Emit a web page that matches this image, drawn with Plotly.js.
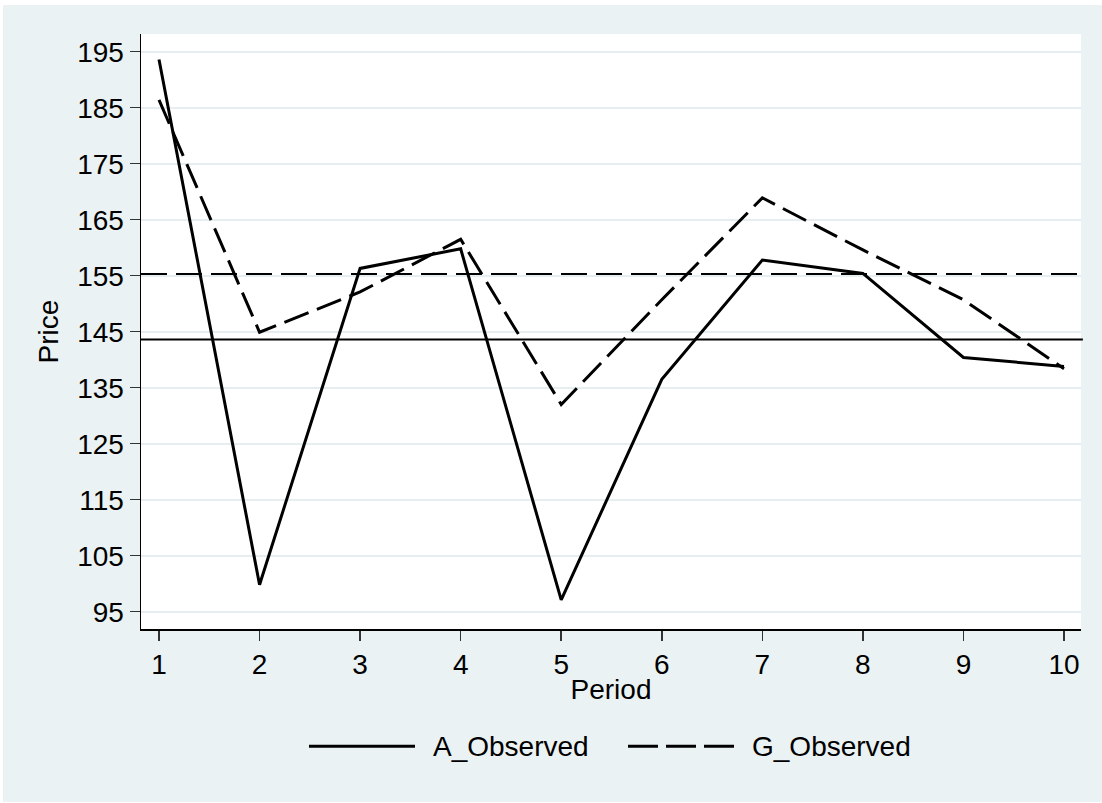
<!DOCTYPE html>
<html>
<head>
<meta charset="utf-8">
<script src="https://cdn.plot.ly/plotly-3.0.1.min.js"></script>
<style>
  html, body { margin: 0; padding: 0; background: #ffffff; }
  #chart { position: absolute; left: 3px; top: 5px; width: 1099px; height: 797px; }
</style>
</head>
<body>
<div id="chart"></div>
<script>
// ---- data ----
const periods = [1, 2, 3, 4, 5, 6, 7, 8, 9, 10];
const aObserved = [193.6, 99.8, 156.3, 159.8, 97.1, 136.5, 157.8, 155.4, 140.4, 138.8];
const gObserved = [186.4, 144.9, 152.1, 161.5, 132.0, 150.7, 168.9, 159.6, 150.7, 138.4];
const aMean = 143.6;
const gMean = 155.3;
const seriesNames = ['A_Observed', 'G_Observed'];
const yTicks = [95, 105, 115, 125, 135, 145, 155, 165, 175, 185, 195];
const xTicks = [1, 2, 3, 4, 5, 6, 7, 8, 9, 10];

const FONT = 'Liberation Sans, Arial, Helvetica, sans-serif';
const FS = 28;
const BG = '#eaf2f3';
const DASH = '26px,9px';

const traces = [
  { x: periods, y: aObserved, name: seriesNames[0], type: 'scatter', mode: 'lines',
    line: { color: '#000000', width: 3 }, showlegend: false },
  { x: periods, y: gObserved, name: seriesNames[1], type: 'scatter', mode: 'lines',
    line: { color: '#000000', width: 3, dash: DASH }, showlegend: false }
];

// manual legend geometry (paper coords)
const legY = -0.197;
const shapes = [
  { type: 'line', xref: 'paper', yref: 'y', x0: 0, x1: 1.002, y0: aMean, y1: aMean,
    line: { color: '#000000', width: 2 } },
  { type: 'line', xref: 'paper', yref: 'y', x0: 0, x1: 1.002, y0: gMean, y1: gMean,
    line: { color: '#000000', width: 2, dash: DASH } },
  { type: 'line', xref: 'paper', yref: 'paper', x0: 0.1787, x1: 0.2915, y0: legY, y1: legY,
    line: { color: '#000000', width: 3 } },
  { type: 'line', xref: 'paper', yref: 'paper', x0: 0.5181, x1: 0.6309, y0: legY, y1: legY,
    line: { color: '#000000', width: 3, dash: '30px,8px' } }
];
const annotations = [
  { xref: 'paper', yref: 'paper', x: 0.3085, y: legY, xanchor: 'left', yanchor: 'middle',
    text: seriesNames[0], showarrow: false, font: { family: FONT, size: FS, color: '#000' } },
  { xref: 'paper', yref: 'paper', x: 0.6478, y: legY, xanchor: 'left', yanchor: 'middle',
    text: seriesNames[1], showarrow: false, font: { family: FONT, size: FS, color: '#000' } }
];

const layout = {
  width: 1099, height: 797,
  paper_bgcolor: BG, plot_bgcolor: '#ffffff',
  margin: { l: 138, r: 21, t: 29, b: 173, pad: 0 },
  font: { family: FONT, size: FS, color: '#000000' },
  showlegend: false,
  xaxis: {
    range: [0.821, 10.169], tickmode: 'array', tickvals: xTicks, ticktext: xTicks.map(String),
    ticks: 'outside', ticklen: 10, tickwidth: 1.5, tickcolor: '#333333',
    showline: true, linecolor: '#000000', linewidth: 1.5, showgrid: false, zeroline: false,
    tickfont: { family: FONT, size: FS, color: '#000' },
    title: { text: 'Period', font: { family: FONT, size: FS, color: '#000' }, standoff: 0 }
  },
  yaxis: {
    range: [91.91, 198.16], tickmode: 'array', tickvals: yTicks, ticktext: yTicks.map(String),
    ticks: 'outside', ticklen: 10, tickwidth: 1.5, tickcolor: '#333333',
    showline: true, linecolor: '#000000', linewidth: 1.5,
    showgrid: true, gridcolor: '#e6eef1', gridwidth: 2, zeroline: false,
    tickfont: { family: FONT, size: FS, color: '#000' },
    title: { text: 'Price', font: { family: FONT, size: FS, color: '#000' }, standoff: 10 }
  },
  shapes: shapes,
  annotations: annotations
};

Plotly.newPlot('chart', traces, layout, { displayModeBar: false, staticPlot: true });
</script>
</body>
</html>
